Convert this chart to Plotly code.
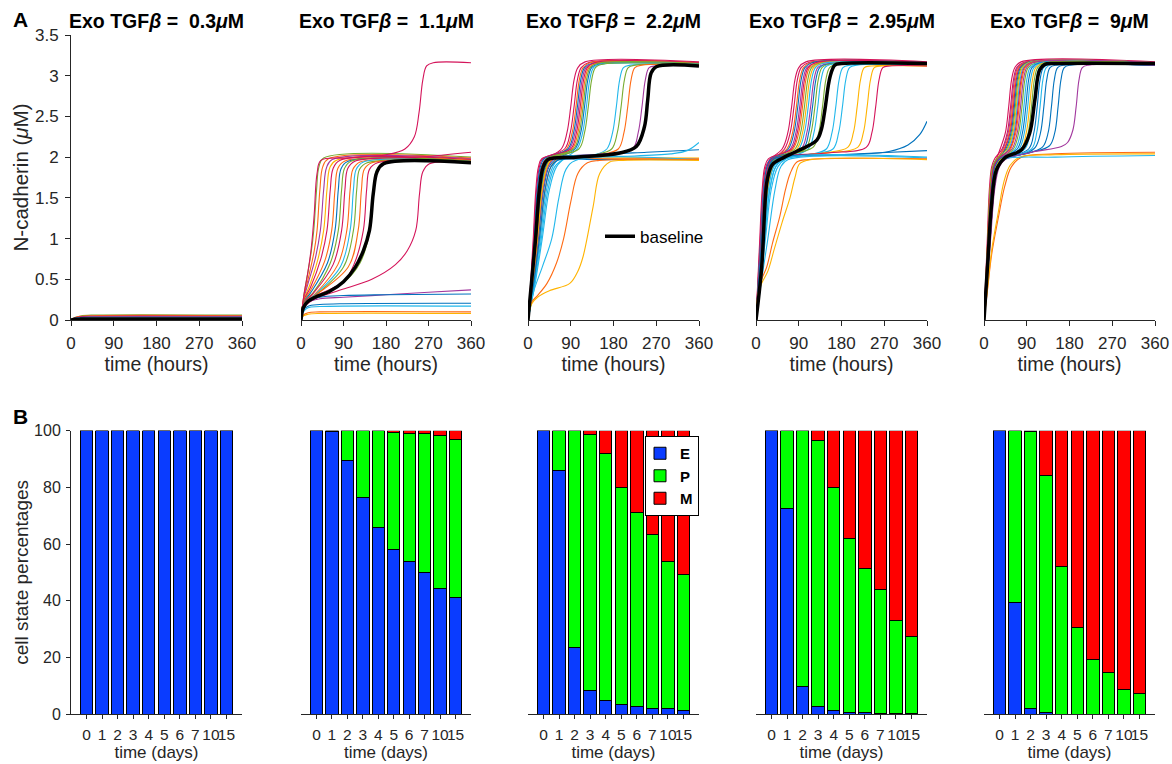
import plotly.graph_objects as go
from plotly.subplots import make_subplots

# ---------------- data ----------------
CONC_LABELS = ["0.3", "1.1", "2.2", "2.95", "9"]
TIME_TICKS = [0, 90, 180, 270, 360]
NCAD_TICKS = [0, 0.5, 1, 1.5, 2, 2.5, 3, 3.5]
NCAD_TICKTEXT = ["0", "0.5", "1", "1.5", "2", "2.5", "3", "3.5"]
DAYS = ["0", "1", "2", "3", "4", "5", "6", "7", "10", "15"]
PCT_TICKS = [0, 20, 40, 60, 80, 100]

PALETTE = {"B": "#0072BD", "O": "#FF6A13", "Y": "#FFB300", "PU": "#A2389E",
           "G": "#77AC30", "C": "#21B7EB", "R": "#D4145A"}

# N-cadherin trajectories (time in hours, value in uM)
CURVES_03 = [
    ["G", [(0, 0), (8, 0.03), (20, 0.05), (45, 0.06), (360, 0.06)]],
    ["O", [(0, 0), (8, 0.028), (20, 0.045), (45, 0.053), (360, 0.053)]],
    ["R", [(0, 0), (8, 0.025), (20, 0.04), (45, 0.046), (360, 0.046)]],
    ["PU", [(0, 0), (8, 0.022), (20, 0.034), (45, 0.04), (360, 0.04)]],
    ["B", [(0, 0), (8, 0.02), (20, 0.03), (45, 0.034), (360, 0.034)]],
    ["C", [(0, 0), (8, 0.016), (20, 0.024), (45, 0.028), (360, 0.028)]],
    ["Y", [(0, 0), (8, 0.012), (20, 0.018), (45, 0.021), (360, 0.021)]],
]
BASELINE_03 = [(0, 0), (8, 0.008), (20, 0.011), (45, 0.012), (360, 0.012)]

CURVES_11 = [
    ["G", [(0, 0), (6, 0.3), (15, 0.6), (22, 0.85), (27, 1.1), (33, 1.6), (38, 1.88), (48, 1.99), (360, 2.0)]],
    ["O", [(0, 0), (6, 0.28), (15, 0.5), (28, 0.85), (34, 1.1), (40, 1.6), (46, 1.88), (58, 1.98), (360, 1.99)]],
    ["PU", [(0, 0), (6, 0.26), (15, 0.45), (30, 0.75), (41, 1.1), (48, 1.6), (54, 1.87), (66, 1.97), (360, 1.98)]],
    ["Y", [(0, 0), (6, 0.25), (18, 0.42), (36, 0.75), (48, 1.1), (55, 1.6), (61, 1.87), (74, 1.96), (360, 1.97)]],
    ["R", [(0, 0), (6, 0.24), (20, 0.4), (42, 0.75), (55, 1.1), (62, 1.6), (68, 1.86), (82, 1.96), (360, 1.97)]],
    ["O", [(0, 0), (6, 0.23), (20, 0.36), (50, 0.72), (65, 1.1), (72, 1.6), (78, 1.86), (92, 1.95), (360, 1.96)]],
    ["B", [(0, 0), (6, 0.22), (20, 0.33), (56, 0.7), (72, 1.1), (79, 1.6), (85, 1.86), (100, 1.95), (360, 1.95)]],
    ["G", [(0, 0), (6, 0.22), (25, 0.33), (62, 0.7), (79, 1.1), (86, 1.6), (92, 1.86), (106, 1.95), (360, 1.95)]],
    ["R", [(0, 0), (6, 0.21), (25, 0.32), (68, 0.68), (86, 1.1), (93, 1.6), (99, 1.86), (114, 1.95), (250, 2.0), (360, 2.06)]],
    ["O", [(0, 0), (6, 0.2), (30, 0.32), (78, 0.68), (97, 1.1), (104, 1.6), (110, 1.85), (125, 1.94), (360, 1.94)]],
    ["C", [(0, 0), (6, 0.2), (30, 0.31), (84, 0.66), (104, 1.1), (111, 1.6), (117, 1.85), (132, 1.94), (360, 1.94)]],
    ["G", [(0, 0), (6, 0.2), (30, 0.3), (90, 0.65), (111, 1.1), (118, 1.6), (124, 1.85), (140, 1.93), (360, 1.94)]],
    ["O", [(0, 0), (6, 0.19), (30, 0.3), (100, 0.65), (121, 1.1), (128, 1.6), (134, 1.85), (150, 1.93), (360, 1.93)]],
    ["R", [(0, 0), (6, 0.19), (30, 0.29), (90, 0.47), (112, 0.68), (132, 1.1), (139, 1.6), (145, 1.85), (162, 1.93), (360, 1.93)]],
    ["G", [(0, 0), (6, 0.18), (30, 0.28), (90, 0.46), (125, 0.7), (146, 1.1), (154, 1.6), (161, 1.85), (178, 1.92), (360, 1.93)]],
    ["R", [(0, 0), (6, 0.15), (30, 0.26), (90, 0.38), (150, 0.5), (200, 0.68), (225, 0.85), (243, 1.1), (251, 1.55), (258, 1.82), (272, 1.92), (360, 1.93)]],
    ["R", [(0, 0), (6, 0.3), (15, 0.6), (22, 0.9), (28, 1.3), (34, 1.8), (42, 1.96), (100, 1.99), (180, 2.03), (220, 2.1), (240, 2.25), (250, 2.55), (258, 2.95), (266, 3.12), (280, 3.16), (360, 3.16)]],
    ["PU", [(0, 0), (5, 0.15), (15, 0.22), (40, 0.26), (90, 0.28), (180, 0.31), (270, 0.34), (360, 0.37)]],
    ["B", [(0, 0), (5, 0.16), (15, 0.24), (40, 0.28), (90, 0.3), (180, 0.31), (360, 0.32)]],
    ["B", [(0, 0), (5, 0.12), (15, 0.17), (40, 0.19), (90, 0.2), (360, 0.205)]],
    ["C", [(0, 0), (5, 0.1), (15, 0.15), (40, 0.165), (360, 0.17)]],
    ["O", [(0, 0), (5, 0.06), (15, 0.09), (40, 0.1), (360, 0.1)]],
    ["Y", [(0, 0), (5, 0.05), (15, 0.07), (40, 0.08), (360, 0.08)]],
]
BASELINE_11 = [(0, 0), (5, 0.15), (15, 0.23), (30, 0.28), (60, 0.35), (90, 0.47), (115, 0.65), (132, 0.85),
               (145, 1.1), (153, 1.55), (161, 1.82), (175, 1.92), (360, 1.93)]

CURVES_22 = [
    ["R", [(0, 0), (7, 0.45), (14, 1.0), (21, 1.6), (28, 1.88), (36, 1.97), (70, 2.1), (82, 2.3), (90, 2.62), (97, 2.95), (105, 3.1), (120, 3.17), (360, 3.17)]],
    ["R", [(0, 0), (6, 0.45), (12, 1.0), (18, 1.6), (24, 1.88), (31, 1.98), (77, 2.1), (89, 2.3), (97, 2.62), (104, 2.95), (112, 3.1), (127, 3.16), (360, 3.16)]],
    ["O", [(0, 0), (8, 0.45), (16, 1.0), (24, 1.6), (32, 1.88), (42, 1.97), (81, 2.1), (93, 2.3), (101, 2.62), (108, 2.95), (116, 3.1), (131, 3.16), (360, 3.16)]],
    ["B", [(0, 0), (6.5, 0.45), (13, 1.0), (19.5, 1.6), (26, 1.88), (34, 1.98), (84, 2.1), (96, 2.3), (104, 2.62), (111, 2.95), (119, 3.1), (134, 3.15), (360, 3.15)]],
    ["PU", [(0, 0), (9, 0.45), (18, 1.0), (27, 1.6), (36, 1.88), (47, 1.97), (87, 2.1), (99, 2.3), (107, 2.62), (114, 2.95), (122, 3.1), (137, 3.15), (360, 3.15)]],
    ["R", [(0, 0), (5.5, 0.45), (11, 1.0), (16.5, 1.6), (22, 1.88), (29, 1.98), (90, 2.1), (102, 2.3), (110, 2.62), (117, 2.95), (125, 3.1), (140, 3.16), (360, 3.16)]],
    ["O", [(0, 0), (10, 0.45), (20, 1.0), (30, 1.6), (40, 1.88), (52, 1.97), (93, 2.1), (105, 2.3), (113, 2.62), (120, 2.95), (128, 3.1), (143, 3.15), (360, 3.15)]],
    ["G", [(0, 0), (7.5, 0.45), (15, 1.0), (22.5, 1.6), (30, 1.88), (39, 1.98), (96, 2.1), (108, 2.3), (116, 2.62), (123, 2.95), (131, 3.1), (146, 3.15), (360, 3.15)]],
    ["B", [(0, 0), (11, 0.45), (22, 1.0), (33, 1.6), (44, 1.88), (57, 1.97), (99, 2.1), (111, 2.3), (119, 2.62), (126, 2.95), (134, 3.1), (149, 3.14), (360, 3.14)]],
    ["C", [(0, 0), (14, 0.45), (28, 1.0), (42, 1.6), (56, 1.88), (73, 1.97), (103, 2.1), (115, 2.3), (123, 2.62), (130, 2.95), (138, 3.1), (153, 3.14), (360, 3.14)]],
    ["G", [(0, 0), (8.5, 0.45), (17, 1.0), (25.5, 1.6), (34, 1.88), (44, 1.98), (107, 2.1), (119, 2.3), (127, 2.62), (134, 2.95), (142, 3.1), (157, 3.14), (360, 3.14)]],
    ["C", [(0, 0), (15, 0.45), (30, 1.0), (45, 1.6), (60, 1.88), (78, 1.98), (140, 2.03), (166, 2.1), (178, 2.3), (186, 2.62), (193, 2.95), (201, 3.1), (216, 3.13), (360, 3.13)]],
    ["G", [(0, 0), (9.5, 0.45), (19, 1.0), (28.5, 1.6), (38, 1.88), (49, 1.98), (140, 2.03), (176, 2.1), (188, 2.3), (196, 2.62), (203, 2.95), (211, 3.1), (226, 3.13), (360, 3.13)]],
    ["O", [(0, 0), (12, 0.45), (24, 1.0), (36, 1.6), (48, 1.88), (62, 1.97), (150, 2.03), (190, 2.1), (202, 2.3), (210, 2.62), (217, 2.95), (225, 3.1), (240, 3.13), (360, 3.13)]],
    ["PU", [(0, 0), (10.5, 0.45), (21, 1.0), (31.5, 1.6), (42, 1.88), (55, 1.98), (160, 2.04), (220, 2.1), (232, 2.3), (240, 2.62), (247, 2.95), (255, 3.1), (270, 3.12), (360, 3.12)]],
    ["B", [(0, 0), (9, 0.45), (18, 1.0), (27, 1.6), (36, 1.88), (47, 1.98), (150, 2.03), (250, 2.06), (360, 2.09)]],
    ["C", [(0, 0), (13, 0.45), (26, 1.0), (39, 1.6), (52, 1.88), (68, 1.99), (200, 2.01), (300, 2.04), (335, 2.08), (360, 2.18)]],
    ["Y", [(0, 0), (10, 0.45), (20, 1.0), (30, 1.6), (40, 1.88), (52, 1.98), (150, 1.99), (360, 1.99)]],
    ["O", [(0, 0), (8.5, 0.45), (17, 1.0), (25.5, 1.6), (34, 1.88), (44, 1.97), (150, 1.98), (360, 1.98)]],
    ["B", [(0, 0), (12, 0.45), (24, 1.0), (36, 1.6), (48, 1.88), (62, 1.96), (150, 1.97), (360, 1.97)]],
    ["C", [(0, 0), (12, 0.35), (30, 0.65), (50, 1.0), (65, 1.5), (80, 1.85), (100, 1.96), (360, 1.97)]],
    ["O", [(0, 0), (8, 0.22), (20, 0.3), (40, 0.45), (60, 0.7), (75, 1.0), (90, 1.45), (105, 1.8), (125, 1.93), (150, 1.96), (360, 1.97)]],
    ["Y", [(0, 0), (8, 0.2), (20, 0.28), (45, 0.36), (88, 0.45), (105, 0.6), (116, 0.78), (137, 1.39), (151, 1.8), (172, 1.94), (200, 1.96), (360, 1.96)]],
]
BASELINE_22 = [(0, 0), (8, 0.5), (16, 1.0), (24, 1.6), (32, 1.88), (42, 1.97), (100, 2.0), (193, 2.05), (228, 2.13),
               (245, 2.37), (252, 2.7), (259, 3.03), (270, 3.11), (360, 3.12)]

CURVES_295 = [
    ["R", [(0, 0), (4.5, 0.5), (9, 1.0), (14.4, 1.6), (20.7, 1.88), (28.8, 1.97), (55, 2.1), (67, 2.3), (75, 2.62), (82, 2.95), (90, 3.1), (105, 3.17), (360, 3.17)]],
    ["R", [(0, 0), (5.5, 0.5), (11, 1.0), (17.6, 1.6), (25.3, 1.88), (35, 1.97), (60, 2.1), (72, 2.3), (80, 2.62), (87, 2.95), (95, 3.1), (110, 3.16), (360, 3.16)]],
    ["O", [(0, 0), (5, 0.5), (10, 1.0), (16, 1.6), (23, 1.88), (32, 1.97), (65, 2.1), (77, 2.3), (85, 2.62), (92, 2.95), (100, 3.1), (115, 3.16), (360, 3.16)]],
    ["B", [(0, 0), (6, 0.5), (12, 1.0), (19, 1.6), (27.6, 1.88), (38, 1.97), (68, 2.1), (80, 2.3), (88, 2.62), (95, 2.95), (103, 3.1), (118, 3.16), (360, 3.16)]],
    ["PU", [(0, 0), (5, 0.5), (10, 1.0), (16, 1.6), (23, 1.88), (32, 1.98), (72, 2.1), (84, 2.3), (92, 2.62), (99, 2.95), (107, 3.1), (122, 3.15), (360, 3.15)]],
    ["R", [(0, 0), (4, 0.5), (8, 1.0), (13, 1.6), (18.4, 1.88), (26, 1.98), (75, 2.1), (87, 2.3), (95, 2.62), (102, 2.95), (110, 3.1), (125, 3.16), (360, 3.16)]],
    ["O", [(0, 0), (6.5, 0.5), (13, 1.0), (21, 1.6), (30, 1.88), (42, 1.97), (78, 2.1), (90, 2.3), (98, 2.62), (105, 2.95), (113, 3.1), (128, 3.15), (360, 3.15)]],
    ["G", [(0, 0), (5.5, 0.5), (11, 1.0), (17.6, 1.6), (25.3, 1.88), (35, 1.98), (82, 2.1), (94, 2.3), (102, 2.62), (109, 2.95), (117, 3.1), (132, 3.15), (360, 3.15)]],
    ["Y", [(0, 0), (7, 0.5), (14, 1.0), (22.4, 1.6), (32, 1.88), (45, 1.97), (86, 2.1), (98, 2.3), (106, 2.62), (113, 2.95), (121, 3.1), (136, 3.15), (360, 3.15)]],
    ["C", [(0, 0), (8, 0.5), (16, 1.0), (25.6, 1.6), (36.8, 1.88), (51, 1.97), (90, 2.1), (102, 2.3), (110, 2.62), (117, 2.95), (125, 3.1), (140, 3.15), (360, 3.15)]],
    ["PU", [(0, 0), (6, 0.5), (12, 1.0), (19, 1.6), (27.6, 1.88), (38, 1.98), (95, 2.1), (107, 2.3), (115, 2.62), (122, 2.95), (130, 3.1), (145, 3.14), (360, 3.14)]],
    ["B", [(0, 0), (5, 0.5), (10, 1.0), (16, 1.6), (23, 1.88), (32, 1.98), (99, 2.1), (111, 2.3), (119, 2.62), (126, 2.95), (134, 3.1), (149, 3.14), (360, 3.14)]],
    ["G", [(0, 0), (6.5, 0.5), (13, 1.0), (21, 1.6), (30, 1.88), (42, 1.98), (104, 2.1), (116, 2.3), (124, 2.62), (131, 2.95), (139, 3.1), (154, 3.14), (360, 3.14)]],
    ["C", [(0, 0), (9, 0.5), (18, 1.0), (28.8, 1.6), (41.4, 1.88), (57.6, 1.97), (110, 2.1), (122, 2.3), (130, 2.62), (137, 2.95), (145, 3.1), (160, 3.14), (360, 3.14)]],
    ["G", [(0, 0), (6, 0.5), (12, 1.0), (19, 1.6), (27.6, 1.88), (38, 1.98), (120, 2.12), (132, 2.3), (140, 2.62), (147, 2.95), (155, 3.1), (170, 3.14), (360, 3.14)]],
    ["C", [(0, 0), (10, 0.5), (20, 1.0), (32, 1.6), (46, 1.88), (64, 1.98), (120, 2.04), (148, 2.1), (160, 2.3), (168, 2.62), (175, 2.95), (183, 3.1), (198, 3.13), (360, 3.13)]],
    ["C", [(0, 0), (8, 0.5), (16, 1.0), (25.6, 1.6), (36.8, 1.88), (51, 1.98), (120, 2.04), (162, 2.1), (174, 2.3), (182, 2.62), (189, 2.95), (197, 3.1), (212, 3.13), (360, 3.13)]],
    ["Y", [(0, 0), (7, 0.5), (14, 1.0), (22.4, 1.6), (32, 1.88), (45, 1.98), (140, 2.05), (193, 2.12), (205, 2.3), (213, 2.62), (220, 2.95), (228, 3.1), (243, 3.12), (360, 3.12)]],
    ["Y", [(0, 0), (7.5, 0.5), (15, 1.0), (24, 1.6), (34.5, 1.88), (48, 1.98), (150, 2.05), (214, 2.12), (226, 2.3), (234, 2.62), (241, 2.95), (249, 3.1), (264, 3.12), (360, 3.12)]],
    ["R", [(0, 0), (5.5, 0.5), (11, 1.0), (17.6, 1.6), (25.3, 1.88), (35, 1.98), (150, 2.05), (232, 2.12), (244, 2.3), (252, 2.62), (259, 2.95), (267, 3.1), (282, 3.12), (360, 3.12)]],
    ["B", [(0, 0), (6, 0.5), (12, 1.0), (19, 1.6), (27.6, 1.88), (38, 1.98), (200, 2.03), (280, 2.07), (320, 2.15), (345, 2.28), (360, 2.44)]],
    ["B", [(0, 0), (7, 0.5), (14, 1.0), (22, 1.6), (32, 1.88), (45, 1.98), (150, 2.02), (250, 2.05), (360, 2.08)]],
    ["C", [(0, 0), (9, 0.5), (18, 1.0), (29, 1.6), (41, 1.88), (57, 1.98), (360, 2.0)]],
    ["C", [(0, 0), (12, 0.5), (25, 1.0), (40, 1.6), (52, 1.88), (68, 1.97), (360, 1.99)]],
    ["O", [(0, 0), (5, 0.35), (12, 0.5), (22.5, 0.65), (35, 0.95), (50, 1.27), (62, 1.6), (72, 1.8), (86, 1.94), (110, 1.97), (360, 1.98)]],
    ["Y", [(0, 0), (5, 0.33), (12, 0.45), (25, 0.6), (38, 0.86), (55, 1.2), (72, 1.51), (82, 1.75), (92, 1.92), (115, 1.97), (360, 1.97)]],
]
BASELINE_295 = [(0, 0), (12, 0.65), (22.5, 1.68), (30, 1.86), (36, 1.92), (60, 2.0), (85, 2.07), (128, 2.21),
                (138, 2.35), (145, 2.58), (156, 2.99), (166, 3.13), (180, 3.15), (360, 3.15)]

CURVES_9 = [
    ["R", [(0, 0), (4, 0.5), (8, 1.0), (12.8, 1.6), (18.4, 1.88), (25.6, 1.97), (34, 2.1), (45, 2.3), (52, 2.62), (58, 2.95), (65, 3.1), (78, 3.17), (360, 3.17)]],
    ["R", [(0, 0), (3.5, 0.5), (7, 1.0), (11.2, 1.6), (16.1, 1.88), (22.4, 1.98), (38, 2.1), (49, 2.3), (56, 2.62), (62, 2.95), (69, 3.1), (82, 3.16), (360, 3.16)]],
    ["PU", [(0, 0), (4.5, 0.5), (9, 1.0), (14.4, 1.6), (20.7, 1.88), (28.8, 1.97), (40, 2.1), (51, 2.3), (58, 2.62), (64, 2.95), (71, 3.1), (84, 3.16), (360, 3.16)]],
    ["O", [(0, 0), (4, 0.5), (8, 1.0), (12.8, 1.6), (18.4, 1.88), (25.6, 1.97), (42, 2.1), (53, 2.3), (60, 2.62), (66, 2.95), (73, 3.1), (86, 3.16), (360, 3.16)]],
    ["R", [(0, 0), (5, 0.5), (10, 1.0), (16, 1.6), (23, 1.88), (32, 1.97), (44, 2.1), (55, 2.3), (62, 2.62), (68, 2.95), (75, 3.1), (88, 3.16), (360, 3.16)]],
    ["B", [(0, 0), (4.5, 0.5), (9, 1.0), (14.4, 1.6), (20.7, 1.88), (28.8, 1.97), (46, 2.1), (57, 2.3), (64, 2.62), (70, 2.95), (77, 3.1), (90, 3.16), (360, 3.16)]],
    ["G", [(0, 0), (4, 0.5), (8, 1.0), (12.8, 1.6), (18.4, 1.88), (25.6, 1.97), (48, 2.1), (59, 2.3), (66, 2.62), (72, 2.95), (79, 3.1), (92, 3.16), (360, 3.16)]],
    ["Y", [(0, 0), (5.5, 0.5), (11, 1.0), (17.6, 1.6), (25.3, 1.88), (35, 1.97), (50, 2.1), (61, 2.3), (68, 2.62), (74, 2.95), (81, 3.1), (94, 3.16), (360, 3.16)]],
    ["C", [(0, 0), (5, 0.5), (10, 1.0), (16, 1.6), (23, 1.88), (32, 1.97), (52, 2.1), (63, 2.3), (70, 2.62), (76, 2.95), (83, 3.1), (96, 3.16), (360, 3.16)]],
    ["R", [(0, 0), (4.5, 0.5), (9, 1.0), (14.4, 1.6), (20.7, 1.88), (28.8, 1.97), (54, 2.1), (65, 2.3), (72, 2.62), (78, 2.95), (85, 3.1), (98, 3.16), (360, 3.16)]],
    ["O", [(0, 0), (6, 0.5), (12, 1.0), (19.2, 1.6), (27.6, 1.88), (38.4, 1.97), (56, 2.1), (67, 2.3), (74, 2.62), (80, 2.95), (87, 3.1), (100, 3.16), (360, 3.16)]],
    ["PU", [(0, 0), (5, 0.5), (10, 1.0), (16, 1.6), (23, 1.88), (32, 1.97), (59, 2.1), (70, 2.3), (77, 2.62), (83, 2.95), (90, 3.1), (103, 3.16), (360, 3.16)]],
    ["G", [(0, 0), (5.5, 0.5), (11, 1.0), (17.6, 1.6), (25.3, 1.88), (35, 1.97), (62, 2.1), (73, 2.3), (80, 2.62), (86, 2.95), (93, 3.1), (106, 3.15), (360, 3.15)]],
    ["C", [(0, 0), (6, 0.5), (12, 1.0), (19.2, 1.6), (27.6, 1.88), (38.4, 1.97), (66, 2.1), (77, 2.3), (84, 2.62), (90, 2.95), (97, 3.1), (110, 3.15), (360, 3.15)]],
    ["B", [(0, 0), (5, 0.5), (10, 1.0), (16, 1.6), (23, 1.88), (32, 1.97), (70, 2.1), (81, 2.3), (88, 2.62), (94, 2.95), (101, 3.1), (114, 3.15), (360, 3.15)]],
    ["C", [(0, 0), (6.5, 0.5), (13, 1.0), (20.8, 1.6), (29.9, 1.88), (41.6, 1.97), (74, 2.1), (85, 2.3), (92, 2.62), (98, 2.95), (105, 3.1), (118, 3.15), (360, 3.15)]],
    ["Y", [(0, 0), (5.5, 0.5), (11, 1.0), (17.6, 1.6), (25.3, 1.88), (35, 1.97), (78, 2.1), (89, 2.3), (96, 2.62), (102, 2.95), (109, 3.1), (122, 3.15), (360, 3.15)]],
    ["G", [(0, 0), (6, 0.5), (12, 1.0), (19.2, 1.6), (27.6, 1.88), (38.4, 1.97), (82, 2.1), (93, 2.3), (100, 2.62), (106, 2.95), (113, 3.1), (126, 3.15), (360, 3.15)]],
    ["C", [(0, 0), (6.5, 0.5), (13, 1.0), (20.8, 1.6), (29.9, 1.88), (41.6, 1.97), (86, 2.1), (97, 2.3), (104, 2.62), (110, 2.95), (117, 3.1), (130, 3.14), (360, 3.14)]],
    ["B", [(0, 0), (6, 0.5), (12, 1.0), (19.2, 1.6), (27.6, 1.88), (38.4, 1.97), (94, 2.1), (105, 2.3), (112, 2.62), (118, 2.95), (125, 3.1), (138, 3.14), (360, 3.14)]],
    ["C", [(0, 0), (6.5, 0.5), (13, 1.0), (20.8, 1.6), (29.9, 1.88), (41.6, 1.97), (100, 2.1), (111, 2.3), (118, 2.62), (124, 2.95), (131, 3.1), (144, 3.14), (360, 3.14)]],
    ["B", [(0, 0), (6, 0.5), (12, 1.0), (19.2, 1.6), (27.6, 1.88), (38.4, 1.97), (90, 2.05), (108, 2.12), (119, 2.3), (126, 2.62), (132, 2.95), (139, 3.1), (152, 3.13), (360, 3.13)]],
    ["B", [(0, 0), (6, 0.5), (12, 1.0), (19.2, 1.6), (27.6, 1.88), (38.4, 1.97), (100, 2.06), (124, 2.13), (135, 2.3), (142, 2.62), (148, 2.95), (155, 3.1), (168, 3.13), (360, 3.13)]],
    ["B", [(0, 0), (6.5, 0.5), (13, 1.0), (20.8, 1.6), (29.9, 1.88), (41.6, 1.97), (100, 2.06), (138, 2.14), (149, 2.3), (156, 2.62), (162, 2.95), (169, 3.1), (182, 3.13), (360, 3.13)]],
    ["PU", [(0, 0), (7, 0.5), (14, 1.0), (22.4, 1.6), (32.2, 1.88), (44.8, 1.97), (100, 2.06), (163, 2.13), (176, 2.18), (187, 2.33), (194, 2.62), (200, 2.95), (207, 3.1), (220, 3.13), (360, 3.13)]],
    ["O", [(0, 0), (8, 0.4), (16, 0.8), (30, 1.25), (43.6, 1.64), (57.6, 1.88), (79, 2.0), (150, 2.04), (360, 2.06)]],
    ["Y", [(0, 0), (8, 0.42), (16, 0.85), (30, 1.32), (42, 1.7), (55, 1.9), (75, 2.0), (150, 2.03), (360, 2.04)]],
    ["C", [(0, 0), (6, 0.5), (12, 1.0), (19, 1.6), (28, 1.88), (40, 1.97), (150, 2.0), (360, 2.02)]],
]
BASELINE_9 = [(0, 0), (8.4, 0.75), (15.5, 1.39), (26, 1.84), (43.6, 1.99), (79, 2.09), (96, 2.29), (107, 2.70),
              (117, 3.07), (128, 3.14), (150, 3.15), (360, 3.15)]

# cell state percentages (E / P / M) per day
E_03 = [100, 100, 100, 100, 100, 100, 100, 100, 100, 100]
P_03 = [0, 0, 0, 0, 0, 0, 0, 0, 0, 0]
M_03 = [0, 0, 0, 0, 0, 0, 0, 0, 0, 0]
E_11 = [100, 99.6, 89.6, 76.5, 65.9, 58.2, 53.8, 49.9, 44.4, 41.3]
P_11 = [0, 0.4, 10.4, 23.5, 34.1, 41.3, 45.3, 49.2, 53.8, 55.6]
M_11 = [0, 0, 0, 0, 0, 0.5, 0.9, 0.9, 1.8, 3.1]
E_22 = [100, 86.0, 23.4, 8.4, 4.6, 3.2, 2.6, 2.0, 1.8, 1.3]
P_22 = [0, 14.0, 76.6, 90.2, 87.3, 76.6, 68.5, 61.5, 52.2, 47.9]
M_22 = [0, 0, 0, 1.4, 8.1, 20.2, 28.9, 36.5, 46.0, 50.8]
E_295 = [100, 72.6, 9.8, 2.8, 1.3, 0.7, 0.5, 0.3, 0.1, 0.1]
P_295 = [0, 27.4, 90.2, 93.6, 78.5, 61.3, 50.9, 43.6, 33.0, 27.2]
M_295 = [0, 0, 0, 3.6, 20.2, 38.0, 48.6, 56.1, 66.9, 72.7]
E_9 = [100, 39.2, 1.9, 0.4, 0, 0, 0, 0, 0, 0]
P_9 = [0, 60.8, 97.9, 83.7, 51.9, 30.6, 19.1, 14.7, 8.7, 7.1]
M_9 = [0, 0, 0.2, 15.9, 48.1, 69.4, 80.9, 85.3, 91.3, 92.9]

STATE_NAMES = ["E", "P", "M"]
STATE_COLORS = ["#0A3CFF", "#00FF00", "#FF0000"]

# ---------------- figure ----------------
W, H = 1172, 764
FONT = "Liberation Sans, Arial, Helvetica, sans-serif"
AXC = "#262626"

CURVE_SETS = [CURVES_03, CURVES_11, CURVES_22, CURVES_295, CURVES_9]
BASELINES = [BASELINE_03, BASELINE_11, BASELINE_22, BASELINE_295, BASELINE_9]
BAR_SETS = [(E_03, P_03, M_03), (E_11, P_11, M_11), (E_22, P_22, M_22),
            (E_295, P_295, M_295), (E_9, P_9, M_9)]

X_PIX = [(71, 242), (301, 471), (528, 699), (756, 927), (984, 1155)]
TOP_Y = (1 - 320 / H, 1 - 35 / H)
BOT_Y = (1 - 714 / H, 1 - 430.7 / H)

fig = make_subplots(rows=2, cols=5)

for c in range(5):
    # line panels
    for color, pts in CURVE_SETS[c]:
        fig.add_trace(go.Scatter(
            x=[p[0] for p in pts], y=[p[1] for p in pts], mode="lines",
            line=dict(color=PALETTE[color], width=1.1, shape="spline", smoothing=1),
            showlegend=False, hoverinfo="skip"), row=1, col=c + 1)
    bl = BASELINES[c]
    fig.add_trace(go.Scatter(
        x=[p[0] for p in bl], y=[p[1] for p in bl], mode="lines", name="baseline",
        line=dict(color="black", width=3.5, shape="spline", smoothing=1),
        showlegend=(c == 2), legend="legend2", hoverinfo="skip"), row=1, col=c + 1)
    # bar panels
    for k in range(3):
        fig.add_trace(go.Bar(
            x=list(range(len(DAYS))), y=BAR_SETS[c][k], name="<b>%s</b>" % STATE_NAMES[k],
            marker=dict(color=STATE_COLORS[k], line=dict(color="black", width=1)),
            width=0.8, showlegend=(c == 2), legend="legend"), row=2, col=c + 1)

fig.update_layout(barmode="stack")

for c in range(5):
    xd = [X_PIX[c][0] / W, X_PIX[c][1] / W]
    top_x = "xaxis" if c == 0 else "xaxis%d" % (c + 1)
    top_y = "yaxis" if c == 0 else "yaxis%d" % (c + 1)
    bot_x = "xaxis%d" % (c + 6)
    bot_y = "yaxis%d" % (c + 6)
    fig.layout[top_x].update(
        domain=xd, range=[0, 360], tickvals=TIME_TICKS, ticks="outside", ticklen=5,
        tickcolor=AXC, showline=True, linecolor=AXC, linewidth=1, showgrid=False,
        zeroline=False, tickfont=dict(size=17, color=AXC, family=FONT),
        ticklabelstandoff=3, automargin=False,
        title=dict(text="time (hours)", font=dict(size=19.5, color=AXC, family=FONT), standoff=3))
    fig.layout[top_y].update(
        domain=list(TOP_Y), range=[0, 3.5], showgrid=False, zeroline=False, automargin=False)
    fig.layout[bot_x].update(
        domain=xd, range=[-1, 10], tickvals=list(range(len(DAYS))), ticktext=DAYS, tickangle=0,
        ticks="outside", ticklen=4, tickcolor=AXC, showline=True, linecolor=AXC, linewidth=1,
        showgrid=False, zeroline=False, tickfont=dict(size=15.5, color=AXC, family=FONT),
        ticklabelstandoff=2, automargin=False,
        title=dict(text="time (days)", font=dict(size=17, color=AXC, family=FONT), standoff=3))
    fig.layout[bot_y].update(
        domain=list(BOT_Y), range=[0, 100], showgrid=False, zeroline=False, automargin=False)
    if c == 0:
        fig.layout[top_y].update(
            tickvals=NCAD_TICKS, ticktext=NCAD_TICKTEXT, ticks="outside", ticklen=5, tickcolor=AXC,
            showline=True, linecolor=AXC, linewidth=1,
            tickfont=dict(size=17, color=AXC, family=FONT), ticklabelstandoff=3,
            title=dict(text="N-cadherin (<i>μ</i>M)", font=dict(size=20.5, color=AXC, family=FONT), standoff=0))
        fig.layout[bot_y].update(
            tickvals=PCT_TICKS, ticks="outside", ticklen=4, tickcolor=AXC,
            showline=True, linecolor=AXC, linewidth=1,
            tickfont=dict(size=16, color=AXC, family=FONT), ticklabelstandoff=2,
            title=dict(text="cell state percentages", font=dict(size=19, color=AXC, family=FONT), standoff=0))
    else:
        fig.layout[top_y].update(visible=False)
        fig.layout[bot_y].update(visible=False)

annotations = []
for c in range(5):
    xc = (X_PIX[c][0] + X_PIX[c][1]) / 2 / W
    annotations.append(dict(
        text="<b>Exo TGF<i>β</i> = \u00a0%s<i>μ</i>M</b>" % CONC_LABELS[c],
        x=xc, y=1 - 21 / H, xref="paper", yref="paper", xanchor="center", yanchor="middle",
        showarrow=False, font=dict(size=19.5, color="black", family=FONT)))
annotations.append(dict(text="<b>A</b>", x=11 / W, y=1 - 20 / H, xref="paper", yref="paper",
                        xanchor="left", yanchor="middle", showarrow=False,
                        font=dict(size=21, color="black", family=FONT)))
annotations.append(dict(text="<b>B</b>", x=11 / W, y=1 - 417 / H, xref="paper", yref="paper",
                        xanchor="left", yanchor="middle", showarrow=False,
                        font=dict(size=21, color="black", family=FONT)))

fig.update_layout(
    width=W, height=H, margin=dict(l=0, r=0, t=0, b=0),
    paper_bgcolor="white", plot_bgcolor="white",
    font=dict(family=FONT, color=AXC),
    annotations=annotations,
    legend=dict(x=645 / W, y=1 - 436 / H, xanchor="left", yanchor="top",
                bgcolor="white", bordercolor="black", borderwidth=1,
                font=dict(size=15, color="black", family=FONT), traceorder="normal",
                itemwidth=30, tracegroupgap=0, indentation=-6),
    legend2=dict(x=600 / W, y=1 - 236.7 / H, xanchor="left", yanchor="middle",
                 bgcolor="rgba(0,0,0,0)", borderwidth=0,
                 font=dict(size=17, color="black", family=FONT)),
)

fig.write_html("out.html")
